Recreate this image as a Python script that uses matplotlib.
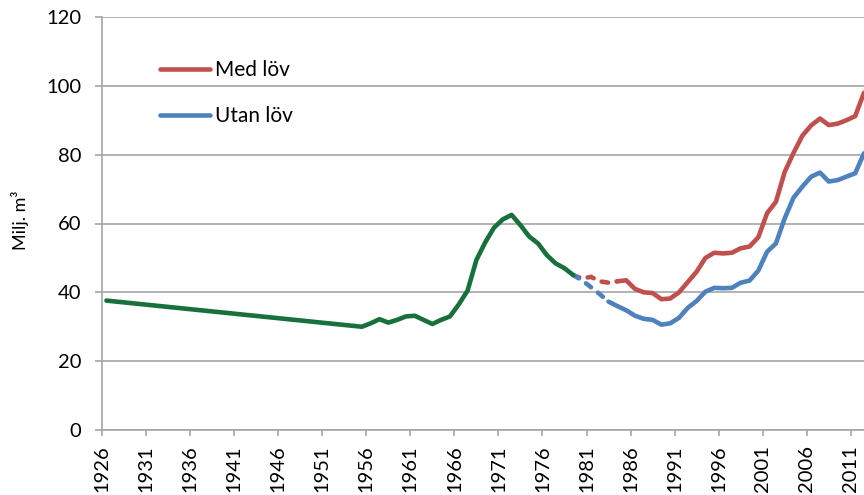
import matplotlib
matplotlib.use('Agg')
import matplotlib.pyplot as plt
import matplotlib.transforms as mtrans
import numpy as np

plt.rcParams['font.family'] = ['Lato', 'DejaVu Sans']

# green: common series up to 1979
years_green = [1926, 1955, 1956, 1957, 1958, 1959, 1960, 1961, 1962, 1963, 1964,
               1965, 1966, 1967, 1968, 1969, 1970, 1971, 1972, 1973, 1974, 1975,
               1976, 1977, 1978, 1979]
vals_green = [37.6, 30.0, 31.0, 32.2, 31.2, 32.0, 33.0, 33.2, 32.0, 30.8, 32.0,
              33.0, 36.5, 40.5, 49.4, 54.5, 58.8, 61.2, 62.5, 59.5, 56.2, 54.2,
              50.8, 48.4, 47.0, 45.0]

years_split = list(range(1979, 2013))
vals_med = [45.0, 44.0, 44.5, 43.2, 42.8, 43.2, 43.5, 41.0, 40.0, 39.8, 38.0,
            38.2, 40.0, 43.0, 46.0, 50.0, 51.5, 51.3, 51.5, 52.8, 53.3, 56.0,
            63.0, 66.3, 75.0, 80.5, 85.5, 88.5, 90.5, 88.6, 89.0, 90.0, 91.2, 98.0]
vals_utan = [45.0, 43.5, 41.5, 39.5, 37.3, 36.0, 34.8, 33.2, 32.3, 32.0, 30.6,
             31.0, 32.6, 35.5, 37.5, 40.2, 41.3, 41.2, 41.3, 42.8, 43.4, 46.3,
             51.8, 54.2, 61.5, 67.5, 70.7, 73.6, 74.8, 72.2, 72.6, 73.6, 74.6, 80.4]
dash_end_med = 1984
dash_end_utan = 1983

tick_years = list(range(1926, 2012, 5))
yticks = [0, 20, 40, 60, 80, 100, 120]

green = '#18703A'
red = '#C0504D'
blue = '#4F81BD'
gray = '#A6A6A6'

fig = plt.figure(figsize=(8.64, 4.95), dpi=100)
ax = fig.add_axes([102/864, 65/495, 1 - 102/864, 413/495])

lw = 3.3
dash = (0, (1.4, 1.9))
ys = np.array(years_split)
med = np.array(vals_med)
utan = np.array(vals_utan)

m = ys <= dash_end_med
ax.plot(ys[m], med[m], color=red, lw=lw, ls=dash, dash_capstyle='round')
ax.plot(ys[ys >= dash_end_med], med[ys >= dash_end_med], color=red, lw=lw, label='Med löv', solid_capstyle='round')
u = ys <= dash_end_utan
ax.plot(ys[u], utan[u], color=blue, lw=lw, ls=dash, dash_capstyle='round')
ax.plot(ys[ys >= dash_end_utan], utan[ys >= dash_end_utan], color=blue, lw=lw, label='Utan löv', solid_capstyle='round')
ax.plot(years_green, vals_green, color=green, lw=lw, solid_capstyle='round')

ax.set_xlim(1925.5, 2012.0)
ax.set_ylim(0, 120)
ax.set_yticks(yticks)
ax.set_xticks([y - 0.5 for y in tick_years])
ax.set_xticklabels([str(y) for y in tick_years], rotation=90)
off = mtrans.ScaledTranslation(4.4/100, 0, fig.dpi_scale_trans)
for lab in ax.get_xticklabels():
    lab.set_transform(lab.get_transform() + off)

ax.yaxis.grid(True, color=gray, lw=1.2)
ax.set_axisbelow(True)
for s in ['top', 'right']:
    ax.spines[s].set_visible(False)
for s in ['left', 'bottom']:
    ax.spines[s].set_color(gray)
    ax.spines[s].set_linewidth(1.2)
ax.tick_params(axis='y', length=5, width=1.2, color=gray, pad=10, labelsize=14.5)
ax.tick_params(axis='x', length=4, width=1.2, color=gray, pad=7, labelsize=14.5)

fig.text(20/864, 1 - 220/495, 'Milj. m³', rotation=90, ha='center', va='center', fontsize=13)

ax.legend(loc='upper left', bbox_to_anchor=(160/864, 1 - 60/495), bbox_transform=fig.transFigure,
          frameon=False, fontsize=15, handlelength=2.4, handletextpad=0.25,
          labelspacing=1.25, borderpad=0, borderaxespad=0)

fig.savefig('out.png', dpi=100)
